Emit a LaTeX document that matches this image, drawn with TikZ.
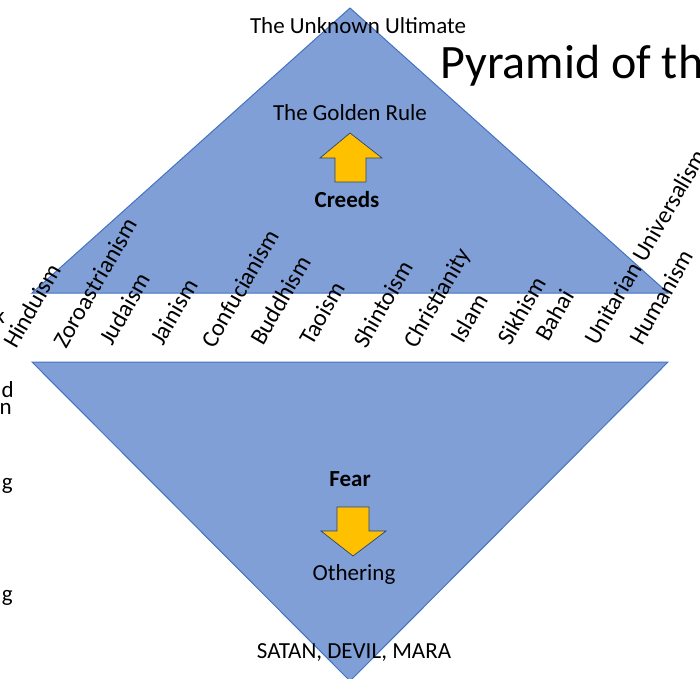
\documentclass[tikz,border=0pt]{standalone}
\usepackage{fontspec}
\setmainfont{Carlito}
\usepackage{tikz}
\usetikzlibrary{positioning}

\definecolor{pyrblue}{RGB}{128,159,214}
\definecolor{pyredge}{RGB}{68,114,196}
\definecolor{arrowgold}{RGB}{255,192,0}

\begin{document}
\begin{tikzpicture}[x=1pt, y=-1pt,
				every node/.append style={inner sep=0pt, font=\fontsize{23}{27}\selectfont},
				religion/.style={rotate=60, anchor=base west, font=\fontsize{24}{28}\selectfont},
				caption/.style={anchor=base},
				cutword/.style={anchor=base east},
				blockarrow/.style={fill=arrowgold, draw=pyredge!60!black, line width=0.7pt},
				half/.style={fill=pyrblue, draw=pyredge, line width=1pt}]
				\useasboundingbox (0,0) rectangle (700,678);
				{
					% the two halves of the pyramid
					\filldraw[half] (32,293) -- (350,8) -- (668,293) -- cycle;
					\filldraw[half] (32,362) -- (668,362) -- (350,681) -- cycle;
					% block arrows
					\filldraw[blockarrow] (350,133) -- (382,158) -- (366,158) -- (366,182)
						-- (335,182) -- (335,158) -- (320,158) -- cycle;
					\filldraw[blockarrow] (353,556) -- (386,531) -- (369,531) -- (369,507)
						-- (337,507) -- (337,531) -- (321,531) -- cycle;
					\node[caption] (ultimate) at (358,33) {The Unknown Ultimate};
					\node[caption] (golden) at (350,120) {The Golden Rule};
					\node[caption, font=\fontsize{23}{27}\selectfont\bfseries] (creeds) at (347,207) {Creeds};
					\node[caption, font=\fontsize{23}{27}\selectfont\bfseries] (fear) at (350,486) {Fear};
					\node[caption] (othering) at (354,580) {Othering};
					\node[caption] (satan) at (354,658) {SATAN, DEVIL, MARA};
					\node[anchor=base west, font=\fontsize{48}{56}\selectfont] (title) at (440,78) {Pyramid of the};
					% the creeds along the band
					\foreach \x/\y/\name [count=\i] in {16/350/Hinduism, 66/350/Zoroastrianism,
						112/347/Judaism, 163/347/Jainism, 214/350/Confucianism, 263/347/Buddhism,
						312/347/Taoism, 366/350/Shintoism, 416/350/Christianity, 463/345/Islam,
						510/347/Sikhism, 548/343/Bahai, 597/347/Unitarian Universalism, 642/347/Humanism}
						\node[religion] (rel\i) at (\x,\y) {\name};
					% words cut off at the left edge
					\node[cutword] (cutk) at (5,323) {k};
					\node[cutword] (cutd) at (14,397) {d};
					\node[cutword] (cutn) at (12,414) {n};
					\node[cutword] (cutg) at (13,489) {g};
					\node[cutword] (cutgg) at (13,601) {g};
				}
\end{tikzpicture}
\end{document}
